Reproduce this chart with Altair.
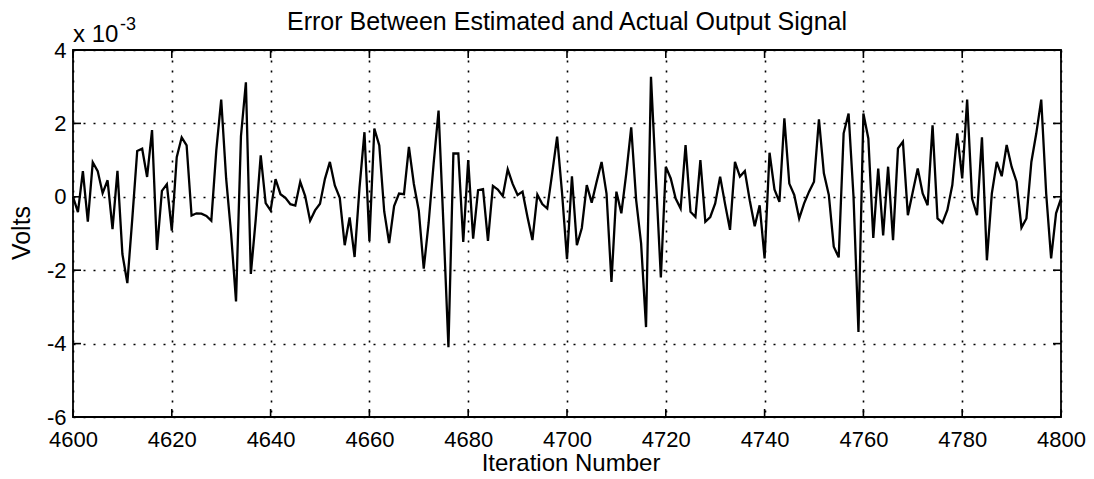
import altair as alt
import pandas as pd

# ---- data (values in units of 1e-3 V) ----
iterations = list(range(4600, 4801))
error_mv = [
    0.0, -0.42, 0.70, -0.68, 0.94, 0.70, 0.10, 0.45, -0.88, 0.71,
    -1.56, -2.35, -0.6, 1.25, 1.31, 0.54, 1.82, -1.45, 0.16, 0.34,
    -0.92, 1.08, 1.62, 1.40, -0.51, -0.45, -0.46, -0.52, -0.65, 1.25,
    2.65, 0.5, -1.0, -2.85, 1.65, 3.12, -2.1, -0.6, 1.13, -0.17,
    -0.37, 0.48, 0.07, -0.03, -0.2, -0.24, 0.41, 0.02, -0.65, -0.37,
    -0.19, 0.49, 0.95, 0.31, -0.03, -1.32, -0.56, -1.64, 0.25, 1.76,
    -1.2, 1.86, 1.40, -0.4, -1.26, -0.25, 0.09, 0.07, 1.36, 0.35,
    -0.38, -1.96, -0.7, 0.9, 2.35, -0.8, -4.1, 1.18, 1.18, -1.23,
    1.0, -1.14, 0.18, 0.21, -1.2, 0.30, 0.20, 0.02, 0.75, 0.35,
    0.05, 0.14, -0.55, -1.18, 0.06, -0.2, -0.32, 0.64, 1.64, 0.1,
    -1.7, 0.56, -1.32, -0.85, 0.32, -0.16, 0.41, 0.95, 0.09, -2.32,
    0.14, -0.45, 0.64, 1.89, -0.09, -1.27, -3.55, 3.27, 0.5, -2.2,
    0.82, 0.5, -0.05, -0.32, 1.41, -0.41, -0.55, 1.0, -0.68, -0.55,
    -0.18, 0.55, -0.2, -0.9, 0.95, 0.55, 0.7, -0.1, -0.8, -0.23,
    -1.68, 1.2, 0.2, -0.14, 2.14, 0.36, 0.05, -0.59, -0.18, 0.14,
    0.41, 2.11, 0.64, 0.05, -1.36, -1.65, 1.73, 2.27, 0.0, -3.68,
    2.27, 1.59, -1.12, 0.77, -1.05, 0.82, -1.18, 1.32, 1.5, -0.5,
    0.14, 0.77, 0.09, -0.23, 1.95, -0.59, -0.71, -0.36, 0.32, 1.73,
    0.5, 2.65, -0.05, -0.5, 1.62, -1.73, 0.09, 0.95, 0.56, 1.41,
    0.82, 0.41, -0.84, -0.59, 0.95, 1.73, 2.65, 0.09, -1.68, -0.45,
    -0.05,
]
x_ticks = [4600, 4620, 4640, 4660, 4680, 4700, 4720, 4740, 4760, 4780, 4800]
y_ticks = [-6, -4, -2, 0, 2, 4]

title_text = "Error Between Estimated and Actual Output Signal"
x_title = "Iteration Number"
y_title = "Volts"
exp_base = "x 10"
exp_power = "-3"

W, H = 988, 367
FONT = "Liberation Sans"

df = pd.DataFrame({"iter": iterations, "err": error_mv})
xt = pd.DataFrame({"t": x_ticks})
yt = pd.DataFrame({"t": y_ticks})

xscale = alt.Scale(domain=[4600, 4800], nice=False, zero=False)
yscale = alt.Scale(domain=[-6, 4], nice=False, zero=False)

grid_common = dict(
    grid=True, gridColor="black", gridDash=[2, 8], gridWidth=1.6, gridOpacity=1,
    ticks=False, domain=False, labelFlush=False, labelFont=FONT,
    labelFontSize=22, labelColor="black", title=None,
    labelExpr="'' + datum.value",
)

line = alt.Chart(df).mark_line(color="black", strokeWidth=2.3).encode(
    x=alt.X("iter:Q", scale=xscale,
            axis=alt.Axis(values=x_ticks, labelPadding=12, **grid_common)),
    y=alt.Y("err:Q", scale=yscale,
            axis=alt.Axis(values=y_ticks, labelPadding=7, **grid_common)),
)

tick_style = dict(color="black", strokeWidth=1.6)
bottom_ticks = alt.Chart(xt).mark_rule(**tick_style).encode(
    x=alt.X("t:Q", scale=xscale), y=alt.value(H), y2=alt.value(H - 8))
top_ticks = alt.Chart(xt).mark_rule(**tick_style).encode(
    x=alt.X("t:Q", scale=xscale), y=alt.value(0), y2=alt.value(8))
left_ticks = alt.Chart(yt).mark_rule(**tick_style).encode(
    y=alt.Y("t:Q", scale=yscale), x=alt.value(0), x2=alt.value(8))
right_ticks = alt.Chart(yt).mark_rule(**tick_style).encode(
    y=alt.Y("t:Q", scale=yscale), x=alt.value(W), x2=alt.value(W - 8))


def label(text, x, y, size, align="center", angle=None):
    kw = dict(font=FONT, fontSize=size, color="black", align=align,
              baseline="alphabetic")
    if angle is not None:
        kw["angle"] = angle
    return alt.Chart(pd.DataFrame({"s": [text]})).mark_text(**kw).encode(
        x=alt.value(x), y=alt.value(y), text="s:N")


title = label(title_text, W / 2, -20, 25)
xlab = label(x_title, W / 2 + 4, H + 54, 24)
ylab = label(y_title, -43, 183, 25, angle=270)
exp1 = label(exp_base, 0, -8, 24, align="left")
exp2 = label(exp_power, 47, -20, 18, align="left")

chart = alt.layer(
    line, bottom_ticks, top_ticks, left_ticks, right_ticks,
    title, xlab, ylab, exp1, exp2,
).properties(
    width=W, height=H,
    autosize=alt.AutoSizeParams(type="none"),
    padding={"left": 65, "top": 42, "right": 25, "bottom": 60},
    background="white",
).configure_view(stroke="black", strokeWidth=1.8)

chart.save("out.html", embed_options={"renderer": "svg", "actions": False})
